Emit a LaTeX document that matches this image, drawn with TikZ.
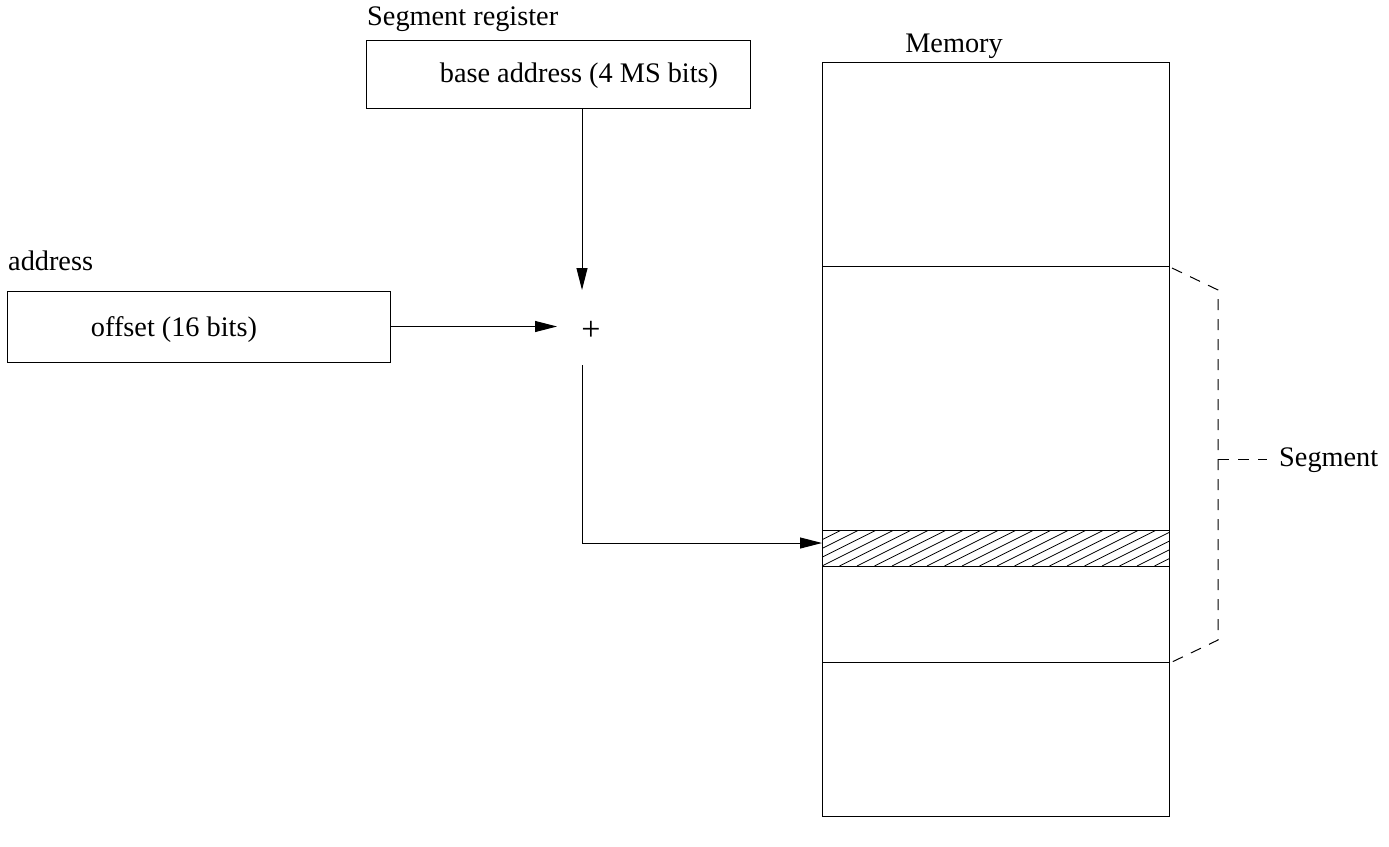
\documentclass[tikz,border=0pt]{standalone}
\usepackage{fontspec}
\setmainfont{Liberation Serif}
\usetikzlibrary{arrows.meta}
\begin{document}
\begin{tikzpicture}[x=1pt,y=-1pt,
  every node/.style={font=\fontsize{28.3}{32}\selectfont, inner sep=0pt},
  box/.style={draw, line width=1pt, rectangle},
  conn/.style={line width=1pt, -{Triangle[length=22pt,width=11pt]}},
  bracket/.style={line width=1pt, dash pattern=on 11pt off 9pt}]
\useasboundingbox (0,0) rectangle (1389,846);
% Segment register
\node[anchor=base west] (seglbl) at (367,25) {Segment register};
\node[box, minimum width=384pt, minimum height=68pt] (seg) at (558,74) {};
\node (segtxt) at (579,76) {base address (4 MS bits)};
% address / offset
\node[anchor=west] (addrlbl) at (8,261) {address};
\node[box, minimum width=383pt, minimum height=71pt] (off) at (198.5,326.5) {};
\node (offtxt) at (174,330) {offset (16 bits)};
% plus
\node[font=\fontsize{34}{36}\selectfont] (plus) at (591,331) {+};
\coordinate (plusin) at (582,290);
\coordinate (plusout) at (582,365);
% memory
\node[box, minimum width=347pt, minimum height=754pt] (mem) at (995.5,439) {};
\node[anchor=base] (memlbl) at (954,52) {Memory};
\coordinate (m1l) at (822,266); \coordinate (m1r) at (1169,266);
\coordinate (h1l) at (822,530); \coordinate (h1r) at (1169,530);
\coordinate (h2l) at (822,566); \coordinate (h2r) at (1169,566);
\coordinate (m2l) at (822,662); \coordinate (m2r) at (1169,662);
\coordinate (target) at (822,543);
\begin{scope}
\clip (h1l) rectangle (h2r);
\foreach \i in {-6,...,22} {
  \draw[line width=0.8pt] ({822+\i*17.5},566) -- ({822+\i*17.5+72},530);
}
\end{scope}
\draw[line width=1pt] (m1l) -- (m1r);
\draw[line width=1pt] (h1l) -- (h1r);
\draw[line width=1pt] (h2l) -- (h2r);
\draw[line width=1pt] (m2l) -- (m2r);
% connectors
\draw[conn] (seg.south -| plusin) -- (plusin);
\draw[conn] (off.east) -- (557,326.5);
\draw[conn] (plusout) |- (target);
% segment bracket
\coordinate (bt) at (1218,290);
\coordinate (bb) at (1218,640);
\coordinate (bm) at (1218,459);
\node[anchor=west] (seglab) at (1279,460) {Segment};
\draw[bracket] (1172,268) -- (bt) -- (bb) -- (1172,662);
\draw[bracket] (bm) -- (1267,459);
\end{tikzpicture}
\end{document}
